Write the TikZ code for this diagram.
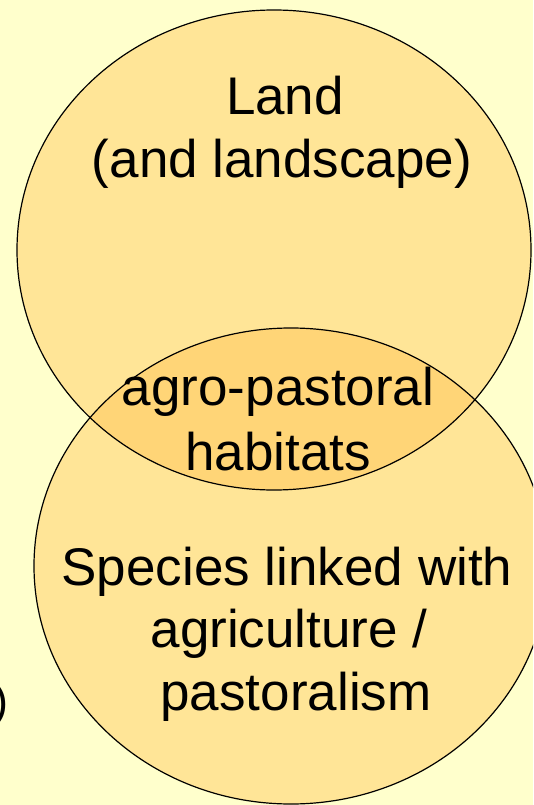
\documentclass[tikz,border=0pt]{standalone}
\usepackage{fontspec}
\setmainfont{Liberation Sans}
\definecolor{bg}{HTML}{FFFFCC}
\definecolor{blob}{HTML}{FFBF48}
\begin{document}
\begin{tikzpicture}[x=1pt,y=-1pt,
  blobfill/.style={fill=blob,fill opacity=0.4},
  blobline/.style={draw=black,line width=1.2pt},
  label/.style={inner sep=0pt,anchor=base,font=\fontsize{53}{63}\selectfont}]
\useasboundingbox (0,0) rectangle (533,805);
\clip (0,0) rectangle (533,805);
\fill[bg] (0,0) rectangle (533,805);
\fill[blobfill] (274,250) ellipse [x radius=257, y radius=240];
\fill[blobfill] (291,566) ellipse [x radius=257, y radius=238];
\draw[blobline] (274,250) ellipse [x radius=257, y radius=240];
\draw[blobline] (291,566) ellipse [x radius=257, y radius=238];
\node[label] (l1) at (285,115) {Land};
\node[label] (l2) at (282,178) {(and landscape)};
\node[label] (h1) at (278,405) {agro-pastoral};
\node[label] (h2) at (278,470) {habitats};
\node[label] (s1) at (287,585) {Species linked with};
\node[label] (s2) at (289,647) {agriculture /};
\node[label] (s3) at (296,710) {pastoralism};
\node[inner sep=0pt,anchor=base west,font=\fontsize{45}{54}\selectfont] (p) at (-7,716) {)};
\end{tikzpicture}
\end{document}
